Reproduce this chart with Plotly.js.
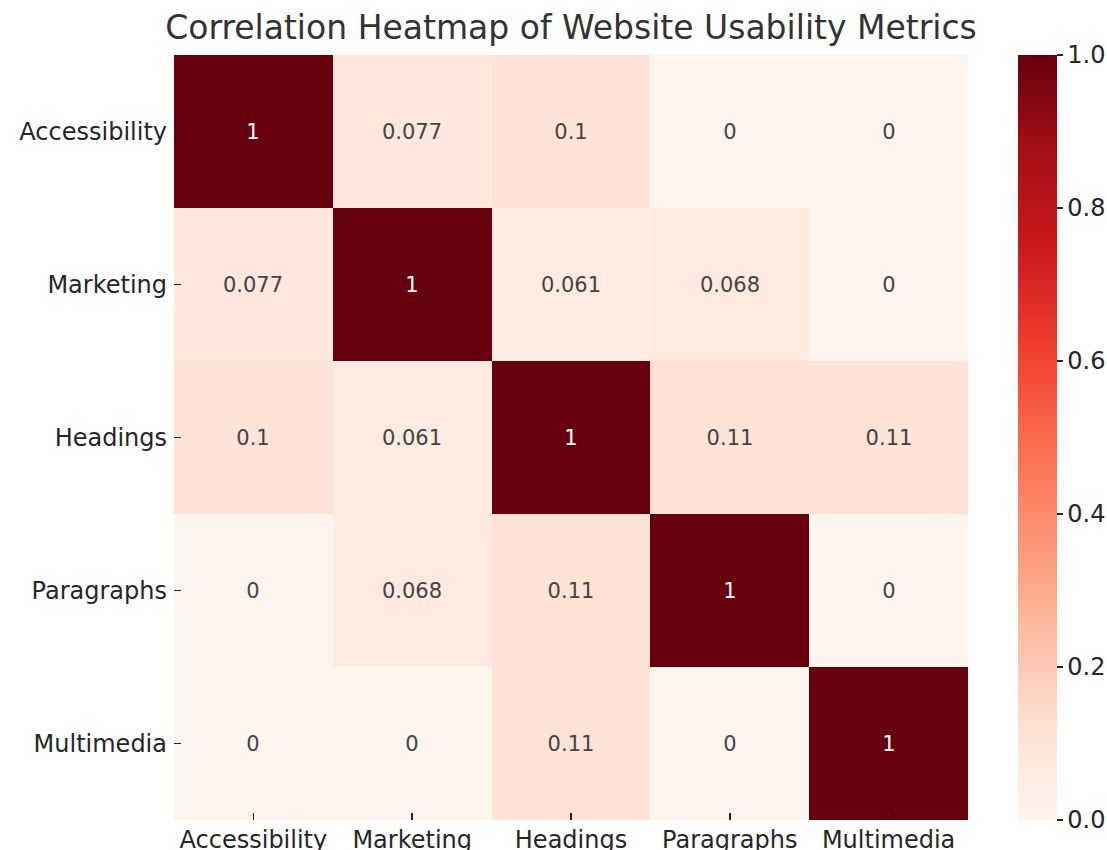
<!DOCTYPE html>
<html>
<head>
<meta charset="utf-8">
<script src="https://cdn.plot.ly/plotly-3.0.1.min.js"></script>
<style>html,body{margin:0;padding:0;background:#fff;}#chart{width:1107px;height:850px;}</style>
</head>
<body>
<div id="chart"></div>
<script>
const categories = ["Accessibility", "Marketing", "Headings", "Paragraphs", "Multimedia"];
const rowAccessibility = [1, 0.077, 0.1, 0, 0];
const rowMarketing = [0.077, 1, 0.061, 0.068, 0];
const rowHeadings = [0.1, 0.061, 1, 0.11, 0.11];
const rowParagraphs = [0, 0.068, 0.11, 1, 0];
const rowMultimedia = [0, 0, 0.11, 0, 1];
const colorbarTicks = [0, 0.2, 0.4, 0.6, 0.8, 1.0];

const z = [rowAccessibility, rowMarketing, rowHeadings, rowParagraphs, rowMultimedia];
const reds = [
  [0, "#fff5f0"], [0.125, "#fee0d2"], [0.25, "#fcbba1"], [0.375, "#fc9272"],
  [0.5, "#fb6a4a"], [0.625, "#ef3b2c"], [0.75, "#cb181d"], [0.875, "#a50f15"], [1, "#67000d"]
];

const trace = {
  type: "heatmap",
  x: categories,
  y: categories,
  z: z,
  zmin: 0,
  zmax: 1,
  colorscale: reds,
  texttemplate: "%{z}",
  textfont: {family: "DejaVu Sans", size: 21, color: "auto"},
  xgap: 0, ygap: 0,
  hoverinfo: "x+y+z",
  colorbar: {
    x: 1.063, xanchor: "left", xref: "paper",
    y: 0.5, yanchor: "middle",
    len: 1, lenmode: "fraction",
    thickness: 39, thicknessmode: "pixels",
    outlinewidth: 0,
    ticks: "outside", ticklen: 6, tickwidth: 1.5, tickcolor: "#262626",
    tickvals: colorbarTicks,
    tickformat: ".1f",
    tickfont: {family: "DejaVu Sans", size: 24, color: "#262626"},
    xpad: 0, ypad: 0
  }
};

const layout = {
  width: 1107, height: 850,
  margin: {l: 174, r: 139, t: 55, b: 30, pad: 0, autoexpand: false},
  paper_bgcolor: "#ffffff",
  plot_bgcolor: "#ffffff",
  font: {family: "DejaVu Sans", color: "#262626"},
  title: {
    text: "Correlation Heatmap of Website Usability Metrics",
    font: {family: "DejaVu Sans", size: 33, color: "#333333"},
    x: 0.5, xref: "paper", xanchor: "center",
    y: 32, yref: "container", yanchor: "middle"
  },
  xaxis: {
    type: "category",
    tickvals: categories,
    ticks: "inside", ticklen: 7, tickwidth: 1.5, tickcolor: "#262626",
    ticklabelstandoff: 3,
    tickfont: {family: "DejaVu Sans", size: 24, color: "#262626"},
    showgrid: false, zeroline: false, showline: false
  },
  yaxis: {
    type: "category",
    tickvals: categories,
    autorange: "reversed",
    ticks: "inside", ticklen: 7, tickwidth: 1.5, tickcolor: "#262626",
    ticklabelstandoff: 6,
    tickfont: {family: "DejaVu Sans", size: 24, color: "#262626"},
    showgrid: false, zeroline: false, showline: false
  }
};

Plotly.newPlot("chart", [trace], layout, {displayModeBar: false, staticPlot: true});
</script>
</body>
</html>
